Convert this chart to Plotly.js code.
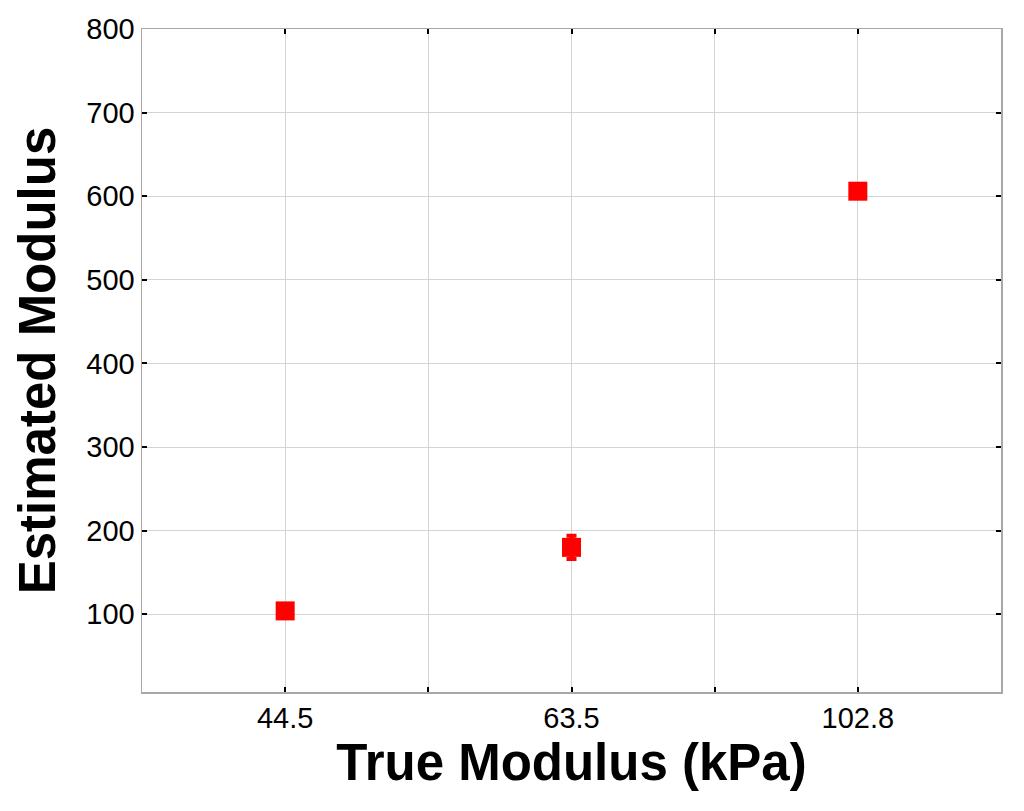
<!DOCTYPE html>
<html>
<head>
<meta charset="utf-8">
<script src="https://cdn.plot.ly/plotly-3.0.1.min.js"></script>
<style>
html,body{margin:0;padding:0;background:#fff;}
#chart{width:1024px;height:811px;}
</style>
</head>
<body>
<div id="chart"></div>
<script>
// Data
const categories = ['44.5', '63.5', '102.8'];
const positions = [1, 2, 3];
const estimated = [104, 180, 606];
const errors = [0, 14, 0];
const yTicks = [100, 200, 300, 400, 500, 600, 700, 800];

const font = 'Arial, "Liberation Sans", sans-serif';

const trace = {
  x: positions,
  y: estimated,
  type: 'scatter',
  mode: 'markers',
  marker: {symbol: 'square', size: 19, color: '#ff0000', line: {width: 0}},
  error_y: {type: 'data', array: errors, visible: true, color: '#ff0000', thickness: 4, width: 5},
  showlegend: false,
  hoverinfo: 'x+y'
};

const xTickVals = [0.5, 1, 1.5, 2, 2.5, 3, 3.5];
const xTickText = xTickVals.map(v => {
  const i = positions.indexOf(v);
  return i >= 0 ? categories[i] : '';
});

const layout = {
  width: 1024,
  height: 811,
  paper_bgcolor: '#ffffff',
  plot_bgcolor: '#ffffff',
  margin: {l: 142, r: 23, t: 29, b: 119, pad: 0},
  font: {family: font, color: '#000000', size: 29},
  xaxis: {
    range: [0.5, 3.5],
    tickmode: 'array',
    tickvals: xTickVals,
    ticktext: xTickText,
    showgrid: true,
    gridcolor: '#d4d4d4',
    gridwidth: 1,
    zeroline: false,
    showline: true,
    linecolor: '#a8a8a8',
    linewidth: 1.5,
    mirror: 'ticks',
    ticks: 'inside',
    ticklen: 5,
    tickwidth: 2,
    tickcolor: '#000000',
    tickfont: {family: font, size: 29, color: '#000000'},
    title: {text: '<b>True Modulus (kPa)</b>', font: {family: font, size: 51, color: '#000000'}, standoff: 11}
  },
  yaxis: {
    range: [7, 800],
    tickmode: 'array',
    tickvals: yTicks,
    ticktext: yTicks.map(String),
    showgrid: true,
    gridcolor: '#d4d4d4',
    gridwidth: 1,
    zeroline: false,
    showline: true,
    linecolor: '#a8a8a8',
    linewidth: 1.5,
    mirror: 'ticks',
    ticks: 'inside',
    ticklen: 5,
    tickwidth: 2,
    tickcolor: '#000000',
    tickfont: {family: font, size: 29, color: '#000000'},
    title: {text: '<b>Estimated Modulus</b>', font: {family: font, size: 51, color: '#000000'}, standoff: 14}
  }
};

Plotly.newPlot('chart', [trace], layout, {displayModeBar: false, staticPlot: true});
</script>
</body>
</html>
